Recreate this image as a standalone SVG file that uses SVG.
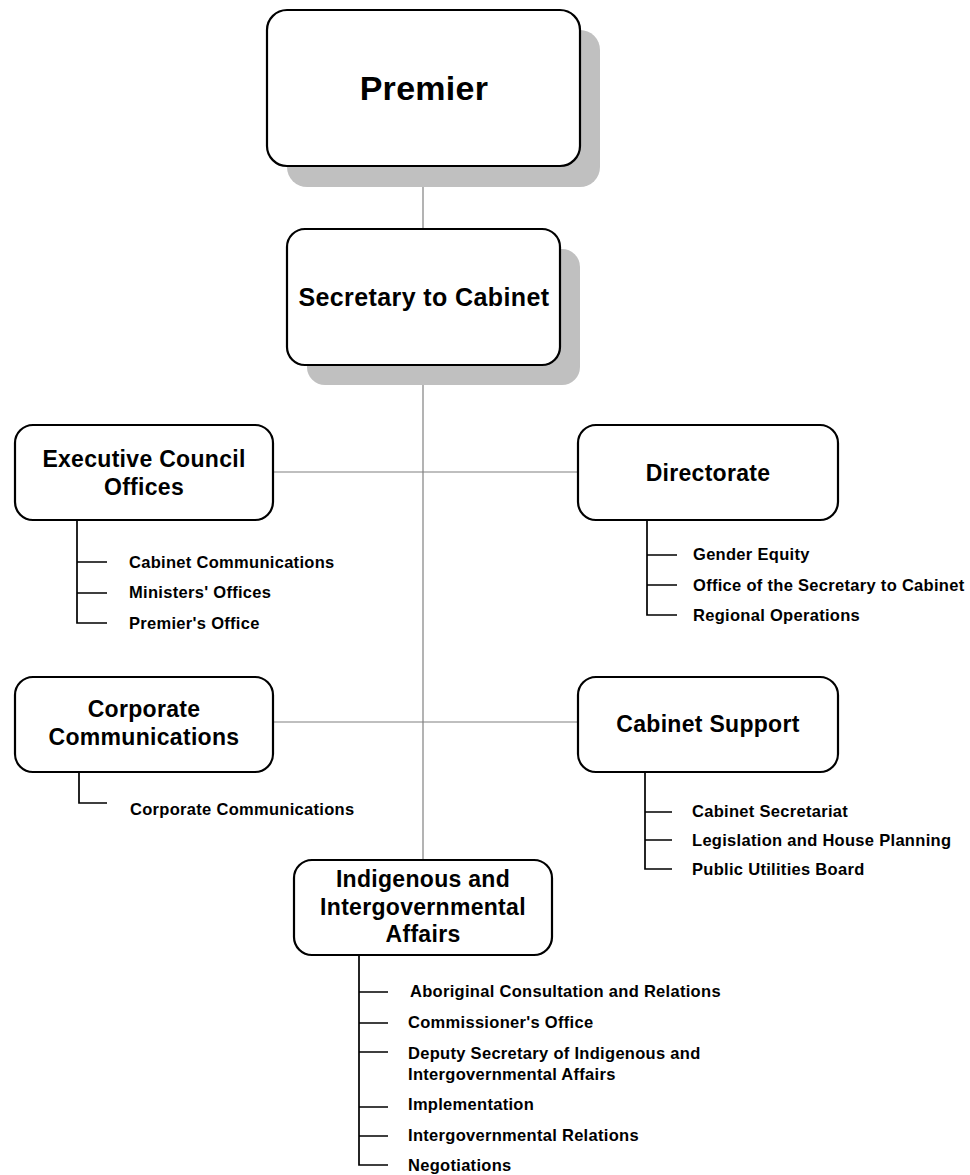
<svg xmlns="http://www.w3.org/2000/svg" width="970" height="1175" viewBox="0 0 970 1175">
<style>
.box{fill:#fff;stroke:#000;stroke-width:2.2}
.shadow{fill:#c0c0c0}
.conn{stroke:#808080;stroke-width:1.2;fill:none}
.sub{stroke:#000;stroke-width:1.7;fill:none}
text{font-family:"Liberation Sans",Arial,sans-serif;font-weight:bold;fill:#000}
.t32{font-size:34px;letter-spacing:0.3px}
.t24{font-size:25px;letter-spacing:0.4px}
.t22{font-size:23px;letter-spacing:0.3px}
.s{font-size:16.5px;letter-spacing:0.3px}
</style>
<rect width="970" height="1175" fill="#fff"/>
<g id="connectors">
<line class="conn" x1="423" y1="166" x2="423" y2="229"/>
<line class="conn" x1="423" y1="365" x2="423" y2="860"/>
<line class="conn" x1="273" y1="472" x2="578" y2="472"/>
<line class="conn" x1="273" y1="722" x2="578" y2="722"/>
</g>
<g id="premier">
<rect class="shadow" x="287" y="30" width="313" height="157" rx="20"/>
<rect class="box" x="267" y="10" width="313" height="156" rx="20"/>
<text class="t32" x="424" y="100" text-anchor="middle">Premier</text>
</g>
<g id="secretary">
<rect class="shadow" x="307" y="249" width="273" height="136" rx="18"/>
<rect class="box" x="287" y="229" width="273" height="136" rx="18"/>
<text class="t24" x="424" y="306" text-anchor="middle">Secretary to Cabinet</text>
</g>
<g id="executive-council">
<rect class="box" x="15" y="425" width="258" height="95" rx="18"/>
<text class="t22" x="144" y="467" text-anchor="middle">Executive Council</text>
<text class="t22" x="144" y="495" text-anchor="middle">Offices</text>
<path class="sub" d="M77 520V623H107M77 562H107M77 593H107"/>
<text class="s" x="129" y="568">Cabinet Communications</text>
<text class="s" x="129" y="598">Ministers' Offices</text>
<text class="s" x="129" y="629">Premier's Office</text>
</g>
<g id="directorate">
<rect class="box" x="578" y="425" width="260" height="95" rx="18"/>
<text class="t22" x="708" y="481" text-anchor="middle">Directorate</text>
<path class="sub" d="M647 520V615H677M647 555H677M647 585H677"/>
<text class="s" x="693" y="560">Gender Equity</text>
<text class="s" x="693" y="591">Office of the Secretary to Cabinet</text>
<text class="s" x="693" y="621">Regional Operations</text>
</g>
<g id="corporate-communications">
<rect class="box" x="15" y="677" width="258" height="95" rx="18"/>
<text class="t22" x="144" y="717" text-anchor="middle">Corporate</text>
<text class="t22" x="144" y="745" text-anchor="middle">Communications</text>
<path class="sub" d="M79 772V803H107"/>
<text class="s" x="130" y="815">Corporate Communications</text>
</g>
<g id="cabinet-support">
<rect class="box" x="578" y="677" width="260" height="95" rx="18"/>
<text class="t22" x="708" y="732" text-anchor="middle">Cabinet Support</text>
<path class="sub" d="M645 772V869H672M645 812H672M645 840H672"/>
<text class="s" x="692" y="817">Cabinet Secretariat</text>
<text class="s" x="692" y="846">Legislation and House Planning</text>
<text class="s" x="692" y="875">Public Utilities Board</text>
</g>
<g id="indigenous">
<rect class="box" x="294" y="860" width="258" height="95" rx="18"/>
<text class="t22" x="423" y="887" text-anchor="middle">Indigenous and</text>
<text class="t22" x="423" y="915" text-anchor="middle">Intergovernmental</text>
<text class="t22" x="423" y="942" text-anchor="middle">Affairs</text>
<path class="sub" d="M359 955V1165H388M359 992H388M359 1023H388M359 1052H388M359 1107H388M359 1136H388"/>
<text class="s" x="410" y="997">Aboriginal Consultation and Relations</text>
<text class="s" x="408" y="1028">Commissioner's Office</text>
<text class="s" x="408" y="1059">Deputy Secretary of Indigenous and</text>
<text class="s" x="408" y="1080">Intergovernmental Affairs</text>
<text class="s" x="408" y="1110">Implementation</text>
<text class="s" x="408" y="1141">Intergovernmental Relations</text>
<text class="s" x="408" y="1171">Negotiations</text>
</g>
</svg>
